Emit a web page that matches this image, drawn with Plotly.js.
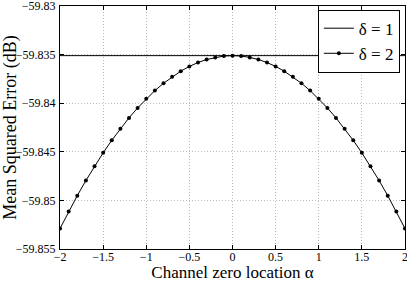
<!DOCTYPE html>
<html><head><meta charset="utf-8">
<script src="https://cdn.plot.ly/plotly-3.0.1.min.js"></script>
<style>html,body{margin:0;padding:0;background:#fff;}#plot{width:407px;height:282px;}</style>
</head><body><div id="plot"></div>
<script>
const alphaVals = [-2,-1.9,-1.8,-1.7,-1.6,-1.5,-1.4,-1.3,-1.2,-1.1,-1,-0.9,-0.8,-0.7,-0.6,-0.5,-0.4,-0.3,-0.2,-0.1,0,0.1,0.2,0.3,0.4,0.5,0.6,0.7,0.8,0.9,1,1.1,1.2,1.3,1.4,1.5,1.6,1.7,1.8,1.9,2];
const mseDelta2 = [-59.8529,-59.85116,-59.84952,-59.84796,-59.84649,-59.84511,-59.84382,-59.84262,-59.84151,-59.84048,-59.83955,-59.8387,-59.83795,-59.83728,-59.8367,-59.83621,-59.83581,-59.8355,-59.83528,-59.83514,-59.8351,-59.83514,-59.83528,-59.8355,-59.83581,-59.83621,-59.8367,-59.83728,-59.83795,-59.8387,-59.83955,-59.84048,-59.84151,-59.84262,-59.84382,-59.84511,-59.84649,-59.84796,-59.84952,-59.85116,-59.8529];
const delta1X = [-2, 2];
const mseDelta1 = [-59.8351, -59.8351];
const xTickVals = [-2,-1.5,-1,-0.5,0,0.5,1,1.5,2];
const xTickText = ["\u22122","\u22121.5","\u22121","\u22120.5","0","0.5","1","1.5","2"];
const yTickVals = [-59.855,-59.85,-59.845,-59.84,-59.835,-59.83];
const yTickText = ["\u221259.855","\u221259.85","\u221259.845","\u221259.84","\u221259.835","\u221259.83"];
const names = ["\u03b4 = 1","\u03b4 = 2"];

const font = {family: "Liberation Serif, Times New Roman, serif", color: "#000"};
const traces = [
  {x: delta1X, y: mseDelta1, mode: "lines", name: names[0], line: {color: "#000", width: 1}},
  {x: alphaVals, y: mseDelta2, mode: "lines+markers", name: names[1], line: {color: "#000", width: 1}, marker: {color: "#000", size: 4}}
];
const axisCommon = {showline: true, mirror: "ticks", linecolor: "#000", linewidth: 1, ticks: "inside", ticklen: 4, tickcolor: "#000",
  showgrid: true, gridcolor: "#bbbbbb", griddash: "1px,2px", gridwidth: 1, zeroline: false, ticklabeloverflow: "allow",
  tickfont: Object.assign({size: 12}, font)};
const layout = {
  width: 407, height: 282,
  margin: {l: 60, r: 2, t: 6, b: 33},
  paper_bgcolor: "#fff", plot_bgcolor: "#fff",
  showlegend: true,
  font: font,
  xaxis: Object.assign({}, axisCommon, {range: [-2.0002, 2.0002], tickvals: xTickVals, ticktext: xTickText, ticklabelstandoff: -3,
    title: {text: "Channel zero location \u03b1", font: Object.assign({size: 17}, font), standoff: 0}}),
  yaxis: Object.assign({}, axisCommon, {range: [-59.85501, -59.82999], tickvals: yTickVals, ticktext: yTickText, ticklabelstandoff: 1,
    title: {text: "Mean Squared Error (dB)", font: Object.assign({size: 18}, font), standoff: 3}}),
  legend: {x: 0.985, y: 0.985, xanchor: "right", yanchor: "top", bgcolor: "#fff", bordercolor: "#000", borderwidth: 1,
    font: Object.assign({size: 17}, font), itemwidth: 30, tracegroupgap: 0}
};
Plotly.newPlot("plot", traces, layout, {staticPlot: true, displayModeBar: false});
</script></body></html>
